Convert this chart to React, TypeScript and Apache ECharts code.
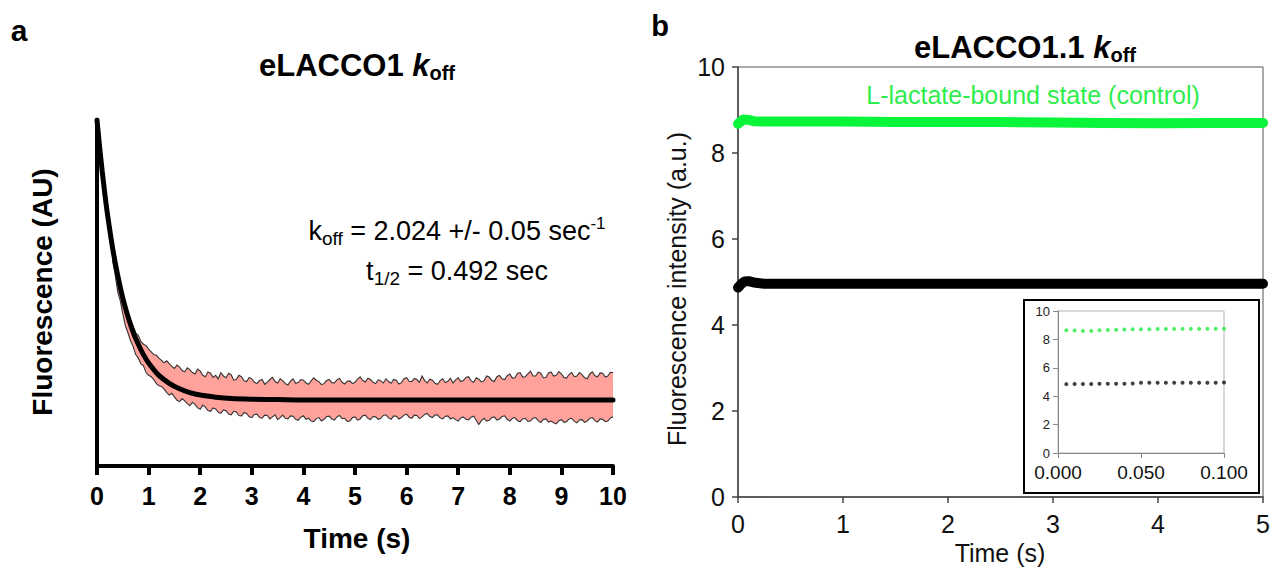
import React, { useEffect, useRef } from "react";
import * as echarts from "echarts";

const FONT = "'Liberation Sans', Arial, Helvetica, sans-serif";

// ---------- Panel a: eLACCO1 koff ----------
const fitTimes = [0, 0.05, 0.1, 0.15, 0.2, 0.3, 0.4, 0.5, 0.6, 0.7, 0.8, 0.9, 1.0, 1.2, 1.4, 1.6, 1.8, 2.0, 2.3, 2.6, 3.0, 3.5, 4, 5, 6, 7, 8, 9, 10];
const fitValues = [10.0, 9.23, 8.53, 7.89, 7.31, 6.32, 5.52, 4.85, 4.32, 3.87, 3.52, 3.22, 2.98, 2.62, 2.39, 2.23, 2.12, 2.05, 1.99, 1.95, 1.93, 1.92, 1.91, 1.91, 1.91, 1.91, 1.91, 1.91, 1.91];

// noisy trace envelope, sampled every 0.05 s from 0.30 s to 10.00 s
const bandStart = 0.3;
const bandStep = 0.05;
const bandUpper = [
  6.45, 6.0, 5.62, 5.25, 4.98, 4.68, 4.45, 4.22, 4.05, 3.85, 3.78, 3.6, 3.52, 3.48, 3.38, 3.30, 3.22, 3.20, 3.12, 3.05,
  2.98, 3.04, 2.96, 2.88, 2.82, 2.92, 2.86, 2.76, 2.72, 2.84, 2.78, 2.70, 2.66, 2.80, 2.74, 2.62, 2.58, 2.72, 2.68, 2.56,
  2.62, 2.52, 2.70, 2.60, 2.55, 2.68, 2.64, 2.48, 2.50, 2.62, 2.58, 2.46, 2.44, 2.56, 2.52, 2.42, 2.38, 2.47, 2.50, 2.36,
  2.42, 2.50, 2.56, 2.44, 2.40, 2.52, 2.47, 2.38, 2.34, 2.45, 2.52, 2.39, 2.41, 2.50, 2.48, 2.40, 2.36, 2.46, 2.55, 2.48,
  2.44, 2.35, 2.38, 2.47, 2.50, 2.41, 2.40, 2.49, 2.53, 2.42, 2.37, 2.45, 2.46, 2.38, 2.42, 2.51, 2.58, 2.47, 2.43, 2.54,
  2.50, 2.42, 2.38, 2.49, 2.46, 2.40, 2.52, 2.44, 2.39, 2.50, 2.48, 2.37, 2.41, 2.52, 2.55, 2.45, 2.44, 2.53, 2.50, 2.42,
  2.60, 2.47, 2.40, 2.51, 2.48, 2.39, 2.36, 2.47, 2.52, 2.41, 2.45, 2.54, 2.40, 2.49, 2.55, 2.44, 2.47, 2.56, 2.58, 2.46,
  2.42, 2.55, 2.51, 2.43, 2.46, 2.60, 2.57, 2.48, 2.44, 2.58, 2.62, 2.52, 2.50, 2.61, 2.66, 2.54, 2.55, 2.68, 2.70, 2.57,
  2.58, 2.66, 2.74, 2.60, 2.60, 2.71, 2.68, 2.55, 2.56, 2.69, 2.72, 2.60, 2.62, 2.73, 2.66, 2.56, 2.54, 2.65, 2.70, 2.58,
  2.60, 2.70, 2.64, 2.55, 2.52, 2.66, 2.72, 2.61, 2.58, 2.69, 2.68, 2.57, 2.60, 2.71, 2.70,
];
const bandLower = [
  5.95, 5.55, 5.05, 4.78, 4.40, 4.05, 3.85, 3.62, 3.45, 3.22, 3.12, 2.95, 2.90, 2.70, 2.62, 2.58, 2.50, 2.38, 2.32, 2.30,
  2.22, 2.12, 2.05, 2.10, 2.00, 1.90, 1.86, 1.95, 1.88, 1.80, 1.74, 1.84, 1.78, 1.68, 1.64, 1.76, 1.70, 1.60, 1.58, 1.68,
  1.65, 1.55, 1.52, 1.62, 1.60, 1.50, 1.48, 1.58, 1.56, 1.46, 1.45, 1.55, 1.52, 1.42, 1.40, 1.49, 1.50, 1.40, 1.38, 1.47,
  1.46, 1.36, 1.42, 1.48, 1.34, 1.40, 1.47, 1.38, 1.36, 1.45, 1.44, 1.35, 1.32, 1.41, 1.45, 1.35, 1.38, 1.30, 1.28, 1.37,
  1.40, 1.30, 1.35, 1.43, 1.44, 1.36, 1.33, 1.42, 1.46, 1.37, 1.38, 1.29, 1.30, 1.40, 1.42, 1.33, 1.36, 1.45, 1.47, 1.38,
  1.34, 1.43, 1.42, 1.35, 1.38, 1.46, 1.48, 1.39, 1.35, 1.45, 1.44, 1.36, 1.40, 1.47, 1.50, 1.41, 1.38, 1.47, 1.46, 1.37,
  1.42, 1.49, 1.52, 1.43, 1.40, 1.47, 1.48, 1.39, 1.36, 1.44, 1.45, 1.36, 1.40, 1.34, 1.30, 1.39, 1.42, 1.35, 1.33, 1.41,
  1.44, 1.32, 1.20, 1.31, 1.38, 1.30, 1.32, 1.40, 1.42, 1.33, 1.36, 1.43, 1.45, 1.35, 1.30, 1.38, 1.40, 1.31, 1.28, 1.36,
  1.38, 1.29, 1.30, 1.38, 1.40, 1.31, 1.26, 1.35, 1.36, 1.27, 1.30, 1.25, 1.22, 1.31, 1.34, 1.26, 1.28, 1.36, 1.38, 1.29,
  1.25, 1.33, 1.34, 1.26, 1.30, 1.38, 1.40, 1.31, 1.27, 1.36, 1.35, 1.28, 1.30, 1.39, 1.42,
];
const bandTimes = bandUpper.map((_, i) => +(bandStart + i * bandStep).toFixed(2));

// ---------- Panel b: eLACCO1.1 koff ----------
const greenTimes = [0, 0.02, 0.05, 0.1, 0.15, 0.25, 0.5, 1.0, 1.5, 2.0, 2.5, 3.0, 3.5, 4.0, 4.5, 5.0];
const greenValues = [8.68, 8.72, 8.78, 8.77, 8.74, 8.73, 8.73, 8.73, 8.72, 8.72, 8.72, 8.71, 8.70, 8.69, 8.70, 8.70];
const blackTimes = [0, 0.03, 0.06, 0.1, 0.15, 0.25, 0.5, 1.0, 1.5, 2.0, 2.5, 3.0, 3.5, 4.0, 4.5, 5.0];
const blackValues = [4.87, 4.95, 5.01, 5.02, 4.99, 4.96, 4.96, 4.96, 4.96, 4.96, 4.96, 4.96, 4.96, 4.96, 4.96, 4.96];

// inset (first 0.1 s)
const insetTimes = [0.005, 0.01, 0.015, 0.02, 0.025, 0.03, 0.035, 0.04, 0.045, 0.05, 0.055, 0.06, 0.065, 0.07, 0.075, 0.08, 0.085, 0.09, 0.095, 0.1];
const insetGreen = [8.65, 8.62, 8.6, 8.6, 8.64, 8.66, 8.68, 8.7, 8.72, 8.72, 8.72, 8.73, 8.73, 8.74, 8.74, 8.74, 8.74, 8.75, 8.75, 8.75];
const insetBlack = [4.85, 4.86, 4.86, 4.86, 4.87, 4.87, 4.88, 4.88, 4.9, 4.94, 4.94, 4.94, 4.94, 4.95, 4.95, 4.95, 4.95, 4.95, 4.95, 4.96];

const pair = (xs: number[], ys: number[]) => xs.map((x, i) => [x, ys[i]]);

export default function App() {
  const ref = useRef<HTMLDivElement>(null);

  useEffect(() => {
    if (!ref.current) return;
    const chart = echarts.init(ref.current, undefined, { renderer: "svg" });

    const boldAxisLabel = { fontSize: 25, fontWeight: "bold", color: "#000", fontFamily: FONT };
    const bAxisLabel = { fontSize: 25, color: "#111", fontFamily: FONT };

    const option: any = {
      animation: false,
      backgroundColor: "#fff",
      grid: [
        { left: 97, top: 120, width: 516, height: 346 },
        { left: 738, top: 67, width: 525, height: 430, show: true, borderColor: "#555", borderWidth: 1 },
        { left: 1058, top: 311, width: 166, height: 142, show: true, borderColor: "#b5b5b5", borderWidth: 1, backgroundColor: "#fff" },
      ],
      xAxis: [
        {
          gridIndex: 0, type: "value", min: 0, max: 10, interval: 1,
          axisLine: { show: true, onZero: false, lineStyle: { color: "#000", width: 4 } },
          axisTick: { show: true, length: 9, lineStyle: { color: "#000", width: 4 } },
          axisLabel: { ...boldAxisLabel, margin: 17 },
          splitLine: { show: false },
        },
        {
          gridIndex: 1, type: "value", min: 0, max: 5, interval: 1,
          axisLine: { show: true, onZero: false, lineStyle: { color: "#444", width: 1.5 } },
          axisTick: { show: true, length: 6, lineStyle: { color: "#444", width: 1.5 } },
          axisLabel: { ...bAxisLabel, margin: 14 },
          splitLine: { show: false },
        },
        {
          gridIndex: 2, type: "value", min: 0, max: 0.1, interval: 0.05,
          axisLine: { show: true, onZero: false, lineStyle: { color: "#888", width: 1 } },
          axisTick: { show: true, length: 5, lineStyle: { color: "#888" } },
          axisLabel: { fontSize: 19, color: "#111", fontFamily: FONT, margin: 10, formatter: (v: number) => v.toFixed(3) },
          splitLine: { show: false },
        },
      ],
      yAxis: [
        {
          gridIndex: 0, type: "value", min: 0, max: 10,
          axisLine: { show: true, onZero: false, lineStyle: { color: "#000", width: 4 } },
          axisTick: { show: false },
          axisLabel: { show: false },
          splitLine: { show: false },
        },
        {
          gridIndex: 1, type: "value", min: 0, max: 10, interval: 2,
          axisLine: { show: true, onZero: false, lineStyle: { color: "#444", width: 1.5 } },
          axisTick: { show: true, length: 6, lineStyle: { color: "#444", width: 1.5 } },
          axisLabel: { ...bAxisLabel, margin: 13 },
          splitLine: { show: false },
        },
        {
          gridIndex: 2, type: "value", min: 0, max: 10, interval: 2,
          axisLine: { show: true, onZero: false, lineStyle: { color: "#888", width: 1 } },
          axisTick: { show: true, length: 5, lineStyle: { color: "#888" } },
          axisLabel: { fontSize: 13, color: "#222", fontFamily: FONT, margin: 8 },
          splitLine: { show: false },
        },
      ],
      series: [
        {
          type: "custom",
          xAxisIndex: 0, yAxisIndex: 0,
          z: 2,
          data: [[bandTimes[0], bandUpper[0]]],
          renderItem: (_params: any, api: any) => {
            const up = bandTimes.map((t, i) => api.coord([t, bandUpper[i]]));
            const lo = bandTimes.map((t, i) => api.coord([t, bandLower[i]]));
            const poly = up.concat(lo.slice().reverse());
            return {
              type: "group",
              children: [
                { type: "polygon", shape: { points: poly }, style: { fill: "#FFA29C", stroke: "none" } },
                { type: "polyline", shape: { points: up }, style: { fill: "none", stroke: "#333", lineWidth: 1.1 } },
                { type: "polyline", shape: { points: lo }, style: { fill: "none", stroke: "#333", lineWidth: 1.1 } },
              ],
            };
          },
        },
        {
          type: "line",
          xAxisIndex: 0, yAxisIndex: 0,
          z: 3,
          data: pair(fitTimes, fitValues),
          smooth: 0.3,
          showSymbol: false,
          lineStyle: { color: "#000", width: 5, cap: "round" },
        },
        {
          type: "line",
          xAxisIndex: 1, yAxisIndex: 1,
          data: pair(greenTimes, greenValues),
          showSymbol: false,
          lineStyle: { color: "#08F53A", width: 10, cap: "round" },
        },
        {
          type: "line",
          xAxisIndex: 1, yAxisIndex: 1,
          data: pair(blackTimes, blackValues),
          showSymbol: false,
          lineStyle: { color: "#000", width: 10, cap: "round" },
        },
        {
          type: "scatter",
          xAxisIndex: 2, yAxisIndex: 2,
          data: pair(insetTimes, insetGreen),
          symbolSize: 4,
          itemStyle: { color: "#22EE44" },
          z: 5,
        },
        {
          type: "scatter",
          xAxisIndex: 2, yAxisIndex: 2,
          data: pair(insetTimes, insetBlack),
          symbolSize: 4,
          itemStyle: { color: "#111" },
          z: 5,
        },
      ],
      graphic: [
        // panel letters
        { type: "text", x: 19, y: 30, style: { text: "a", fontSize: 30, fontWeight: "bold", fontFamily: FONT, fill: "#000", align: "center", verticalAlign: "middle" } },
        { type: "text", x: 660, y: 26, style: { text: "b", fontSize: 29, fontWeight: "bold", fontFamily: FONT, fill: "#000", align: "center", verticalAlign: "middle" } },
        // titles
        {
          type: "text", x: 357, y: 65,
          style: {
            text: "{t|eLACCO1 }{k|k}{s|off}",
            align: "center", verticalAlign: "middle",
            rich: {
              t: { fontSize: 31, fontWeight: "bold", fontFamily: FONT, fill: "#000" },
              k: { fontSize: 31, fontWeight: "bold", fontStyle: "italic", fontFamily: FONT, fill: "#000" },
              s: { fontSize: 20, fontWeight: "bold", fontFamily: FONT, fill: "#000", padding: [15, 0, 0, 0] },
            },
          },
        },
        {
          type: "text", x: 1025, y: 47,
          style: {
            text: "{t|eLACCO1.1 }{k|k}{s|off}",
            align: "center", verticalAlign: "middle",
            rich: {
              t: { fontSize: 31, fontWeight: "bold", fontFamily: FONT, fill: "#000" },
              k: { fontSize: 31, fontWeight: "bold", fontStyle: "italic", fontFamily: FONT, fill: "#000" },
              s: { fontSize: 20, fontWeight: "bold", fontFamily: FONT, fill: "#000", padding: [15, 0, 0, 0] },
            },
          },
        },
        // annotation panel a
        {
          type: "text", x: 457, y: 231,
          style: {
            text: "{m|k}{s|off}{m| = 2.024 +/- 0.05 sec}{p|-1}",
            align: "center", verticalAlign: "middle",
            rich: {
              m: { fontSize: 27, fontFamily: FONT, fill: "#000" },
              s: { fontSize: 19, fontFamily: FONT, fill: "#000", padding: [15, 0, 0, 0] },
              p: { fontSize: 17, fontFamily: FONT, fill: "#000", padding: [0, 0, 15, 0] },
            },
          },
        },
        {
          type: "text", x: 457, y: 271,
          style: {
            text: "{m|t}{s|1/2}{m| = 0.492 sec}",
            align: "center", verticalAlign: "middle",
            rich: {
              m: { fontSize: 27, fontFamily: FONT, fill: "#000" },
              s: { fontSize: 19, fontFamily: FONT, fill: "#000", padding: [15, 0, 0, 0] },
            },
          },
        },
        // axis titles panel a
        { type: "text", x: 357, y: 538, style: { text: "Time (s)", fontSize: 28, fontWeight: "bold", fontFamily: FONT, fill: "#000", align: "center", verticalAlign: "middle" } },
        { type: "text", x: 42, y: 292, rotation: Math.PI / 2, style: { text: "Fluorescence (AU)", fontSize: 28, fontWeight: "bold", fontFamily: FONT, fill: "#000", align: "center", verticalAlign: "middle" } },
        // axis titles panel b
        { type: "text", x: 1000, y: 553, style: { text: "Time (s)", fontSize: 25, fontFamily: FONT, fill: "#111", align: "center", verticalAlign: "middle" } },
        { type: "text", x: 677, y: 289, rotation: Math.PI / 2, style: { text: "Fluorescence intensity (a.u.)", fontSize: 25, fontFamily: FONT, fill: "#111", align: "center", verticalAlign: "middle" } },
        // green label
        { type: "text", x: 1033, y: 95, style: { text: "L-lactate-bound state (control)", fontSize: 25, fontFamily: FONT, fill: "#2DEE4C", align: "center", verticalAlign: "middle" } },
        // inset frame
        { type: "rect", shape: { x: 1024, y: 300, width: 235, height: 193 }, style: { fill: "none", stroke: "#000", lineWidth: 2 }, z: 10 },
      ],
    };

    chart.setOption(option);
    return () => chart.dispose();
  }, []);

  return <div ref={ref} style={{ position: "fixed", left: 0, top: 0, width: 1275, height: 571 }} />;
}
